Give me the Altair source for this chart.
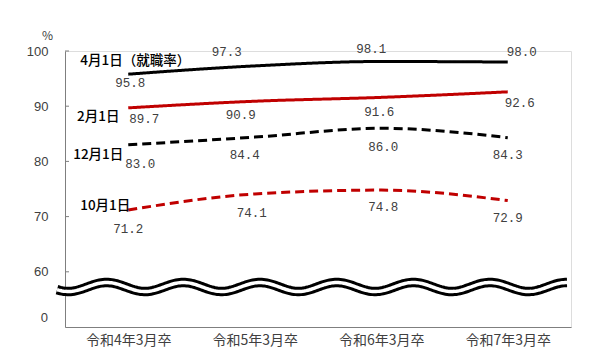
import altair as alt
import pandas as pd
import numpy as np

categories = ["令和4年3月卒", "令和5年3月卒", "令和6年3月卒", "令和7年3月卒"]
series_names = ["4月1日（就職率）", "2月1日", "12月1日", "10月1日"]
apr1 = [95.8, 97.3, 98.1, 98.0]
feb1 = [89.7, 90.9, 91.6, 92.6]
dec1 = [83.0, 84.4, 86.0, 84.3]
oct1 = [71.2, 74.1, 74.8, 72.9]
y_ticks = [60, 70, 80, 90, 100]

# styling (not data)
colors = {"4月1日（就職率）": "#000000", "2月1日": "#c00000", "12月1日": "#000000", "10月1日": "#c00000"}
dashes = {"4月1日（就職率）": [1, 0], "2月1日": [1, 0], "12月1日": [9, 5], "10月1日": [9, 5]}
# pixel offsets of value labels relative to their point
label_dx = [[2, -28, -10, 14], [16, -14, -2, 12], [12, -10, 2, 0], [0, -3, 2, 0]]
label_dy = [[9, -14, -12, -10], [11, 14, 15, 11], [19, 18, 19, 17], [19, 19, 17, 17]]
name_dx = [7, -30, -30, -23]
name_dy = [-13, 9, 10, -4]

W, H = 506, 276
PX_X = W / 4.0        # px per category step
PX_Y = H / 50.0       # px per percent

all_series = [apr1, feb1, dec1, oct1]

rows = []
for s, vals in zip(series_names, all_series):
    for i, v in enumerate(vals):
        rows.append({"series": s, "i": i, "v": v})
df = pd.DataFrame(rows)

lab_rows = []
for k, (s, vals) in enumerate(zip(series_names, all_series)):
    for i, v in enumerate(vals):
        lab_rows.append({"i": i + label_dx[k][i] / PX_X, "v": v - label_dy[k][i] / PX_Y,
                         "t": f"{v:.1f}"})
lab_df = pd.DataFrame(lab_rows)

name_df = pd.DataFrame([
    {"i": 0 + name_dx[k] / PX_X, "v": vals[0] - name_dy[k] / PX_Y, "t": s}
    for k, (s, vals) in enumerate(zip(series_names, all_series))
])

# axis-break wave decoration
px = np.linspace(-8, 502, 300)
wave_df = pd.DataFrame({
    "i": -0.5 + px / PX_X,
    "v": 57.25 + (4.5 / PX_Y) * np.cos(2 * np.pi * (px + 65 - 260) / 76.7),
})

xs = alt.Scale(domain=[-0.5, 3.5], nice=False, zero=False)
ys = alt.Scale(domain=[50, 100], nice=False, zero=False)

label_expr = ("datum.value == 0 ? '%s' : datum.value == 1 ? '%s' : datum.value == 2 ? '%s' : '%s'"
              % tuple(categories))

base_x = alt.X("i:Q", scale=xs, axis=alt.Axis(values=[0, 1, 2, 3], labelExpr=label_expr, ticks=False,
                                              grid=False, title=None, domainColor="#7f7f7f",
                                              labelFont="Noto Sans CJK JP", labelFontSize=14,
                                              labelColor="#404040", labelPadding=6))
base_y = alt.Y("v:Q", scale=ys, axis=alt.Axis(values=y_ticks, ticks=False, grid=False, title="%",
                                              titleAngle=0, titleX=-18, titleY=-9, titleFontWeight="normal",
                                              titleFont="Noto Sans CJK JP", titleFontSize=12, titleColor="#404040",
                                              titleAlign="center",
                                              domainColor="#7f7f7f", labelFont="Liberation Sans",
                                              labelFontSize=13, labelColor="#404040", labelPadding=17))

tick_df = pd.DataFrame({"v": y_ticks})
ticks = alt.Chart(tick_df).mark_rule(color="#7f7f7f", strokeWidth=1).encode(
    x=alt.datum(-0.5, scale=xs), x2=alt.datum(-0.5 + 4 / PX_X), y=alt.Y("v:Q", scale=ys))

zero_lab = alt.Chart(pd.DataFrame({"v": [51.6], "t": ["0"]})).mark_text(
    align="right", font="Liberation Sans", fontSize=13, color="#404040", dx=-17).encode(
    x=alt.datum(-0.5, scale=xs), y=alt.Y("v:Q", scale=ys), text="t:N")

lines = []
for s in series_names:
    lines.append(alt.Chart(df[df.series == s]).mark_line(
        color=colors[s], strokeWidth=3, strokeDash=dashes[s], interpolate="monotone").encode(
        x=base_x, y=base_y))

wave_black = alt.Chart(wave_df).mark_line(color="black", strokeWidth=9.5, clip=False).encode(
    x=alt.X("i:Q", scale=xs), y=alt.Y("v:Q", scale=ys))
wave_white = alt.Chart(wave_df).mark_line(color="white", strokeWidth=3.5, clip=False).encode(
    x=alt.X("i:Q", scale=xs), y=alt.Y("v:Q", scale=ys))

vlabels = alt.Chart(lab_df).mark_text(font="Liberation Mono", fontSize=12.5, color="#404040").encode(
    x=alt.X("i:Q", scale=xs), y=alt.Y("v:Q", scale=ys), text="t:N")
nlabels = alt.Chart(name_df).mark_text(font="Noto Sans CJK JP", fontSize=13.5, fontWeight=500,
                                       color="#000000").encode(
    x=alt.X("i:Q", scale=xs), y=alt.Y("v:Q", scale=ys), text="t:N")

chart = alt.layer(*lines, wave_black, wave_white, ticks, zero_lab, vlabels, nlabels).properties(
    width=W, height=H,
    autosize=alt.AutoSizeParams(type="none"),
    padding={"left": 57, "top": 43, "right": 32, "bottom": 29},
).configure_view(stroke=None).configure(background="white")

chart.save("out.html", embed_options={"renderer": "svg", "actions": False})
